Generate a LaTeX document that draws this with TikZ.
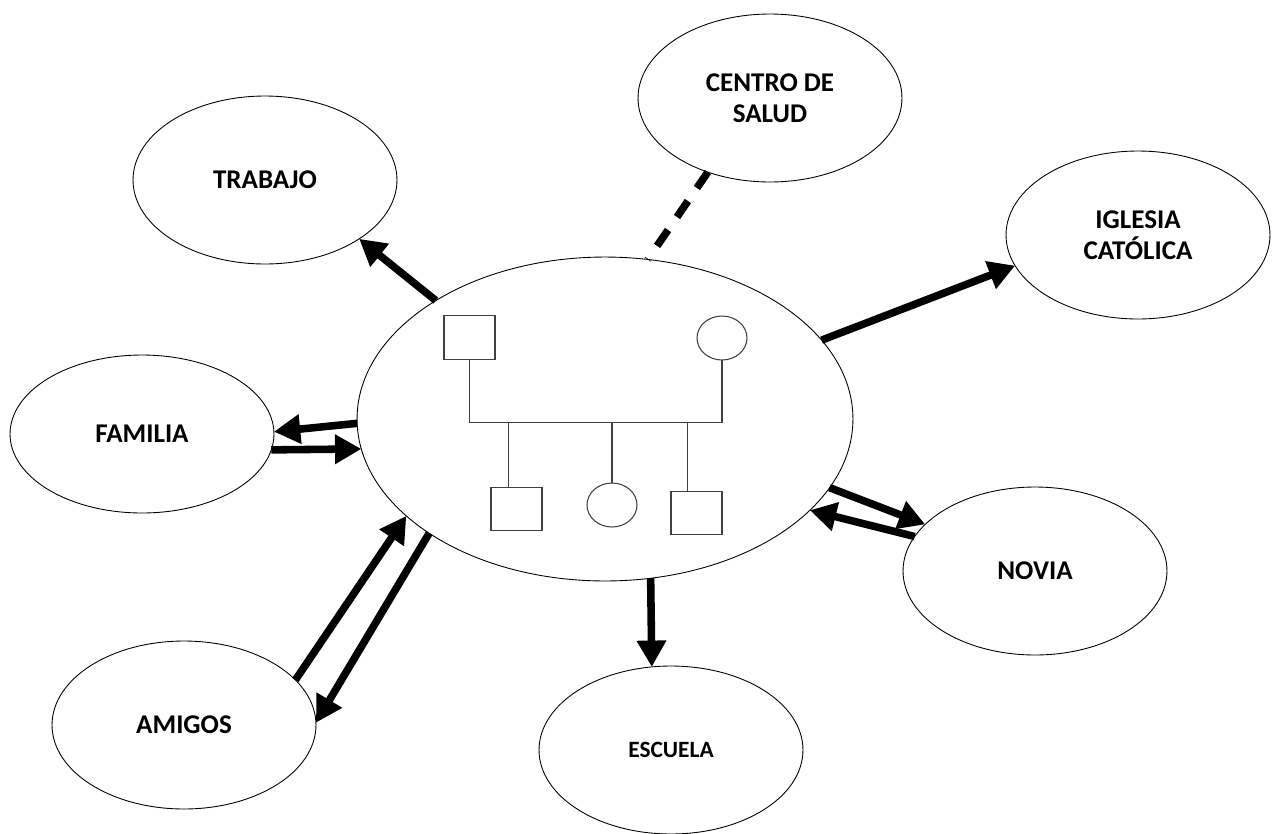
\documentclass[tikz,border=0pt]{standalone}
\usepackage{fontspec}
\setmainfont{Carlito}
\usetikzlibrary{arrows.meta, shapes.geometric}

\begin{document}
\begin{tikzpicture}[x=0.02cm, y=-0.02cm,
    sistema/.style={ellipse, draw, line width=0.5pt, inner sep=0pt, outer sep=0pt,
      minimum width=5.28cm, minimum height=3.36cm, align=center,
      font=\bfseries\fontsize{15.4}{17.6}\selectfont},
    flecha/.style={line width=4.3pt, -{Triangle[length=15pt, width=16pt]}},
    vinculo/.style={line width=0.6pt, draw=black!75},
    varon/.style={rectangle, vinculo, inner sep=0pt, outer sep=0pt,
      minimum width=1.02cm, minimum height=0.87cm},
    mujer/.style={ellipse, vinculo, inner sep=0pt, outer sep=0pt,
      minimum width=1.0cm, minimum height=0.88cm}]
  \useasboundingbox (0,0) rectangle (1275,833);
  % Familia nuclear
  \node[ellipse, draw, line width=0.5pt, inner sep=0pt, outer sep=0pt,
    minimum width=9.92cm, minimum height=6.48cm] (familiar) at (605,419) {};
  \node[varon] (padre) at (469.5,337.5) {};
  \node[mujer] (madre) at (722,338) {};
  \node[varon] (hijo1) at (516.5,509) {};
  \node[mujer] (hija) at (612,505) {};
  \node[varon] (hijo2) at (696.5,513) {};
  \draw[vinculo] (padre.south) -- ++(0,63) coordinate (union) -- (union -| madre.south) -- (madre.south);
  \draw[vinculo] (hijo1.110) -- (hijo1.110 |- union);
  \draw[vinculo] (hija.north) -- (hija.north |- union);
  \draw[vinculo] (hijo2.113) -- (hijo2.113 |- union);
  % Sistemas externos
  \node[sistema] (trabajo) at (265,180) {TRABAJO};
  \node[sistema] (salud) at (770,98) {CENTRO DE\\SALUD};
  \node[sistema] (iglesia) at (1138,235) {IGLESIA\\CATÓLICA};
  \node[sistema, minimum height=3.16cm] (familia) at (142,434) {FAMILIA};
  \node[sistema] (novia) at (1035,571) {NOVIA};
  \node[sistema] (amigos) at (184,725) {AMIGOS};
  \node[sistema, font=\bfseries\fontsize{13.3}{15}\selectfont] (escuela) at (671,750) {ESCUELA};
  % Relaciones
  \draw[flecha] (familiar.145) -- (trabajo.-32);
  \draw[line width=4.3pt, dash pattern=on 11pt off 9pt] (salud.230) -- (familiar.75);
  \draw[flecha] (familiar.20) -- (iglesia.194);
  \draw[flecha] (familiar.181) -- (familia.1);
  \draw[flecha] (familia.-7) -- (familiar.187.6);
  \draw[flecha] (amigos.22) -- (familiar.206);
  \draw[flecha] (familiar.213) -- (amigos.1);
  \draw[flecha] (familiar.-17) -- (novia.157);
  \draw[flecha] (novia.164.5) -- (familiar.-24);
  \draw[flecha] (familiar.-74) -- (escuela.103);
\end{tikzpicture}
\end{document}
